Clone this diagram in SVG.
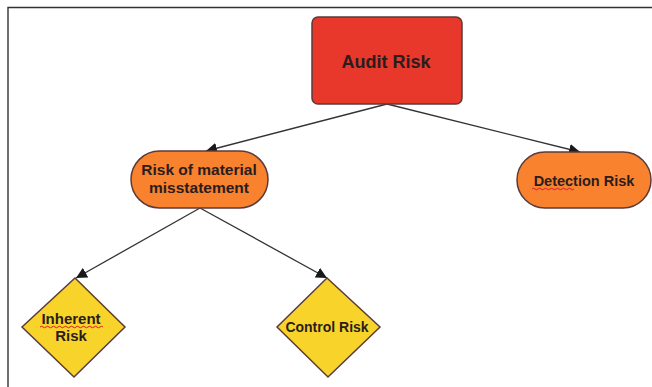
<svg xmlns="http://www.w3.org/2000/svg" width="652" height="387" viewBox="0 0 652 387">
  <defs>
    <marker id="arrow" viewBox="0 0 10 10" refX="10" refY="5" markerWidth="11" markerHeight="11" markerUnits="userSpaceOnUse" orient="auto">
      <path d="M0,0 L10,5 L0,10 z" fill="#1a1a1a"/>
    </marker>
    <style>
      .edge { stroke: #333; stroke-width: 1.3; fill: none; marker-end: url(#arrow); }
      .node { stroke: #5b3b3b; stroke-width: 1.5; }
      .lbl { font-family: "Liberation Sans", Arial, sans-serif; font-weight: bold; fill: #2b1d1d; text-anchor: middle; }
      .squig { stroke: #d42020; stroke-width: 1; fill: none; }
    </style>
  </defs>

  <rect width="652" height="387" fill="#ffffff"/>
  <!-- frame: top and left edges -->
  <path d="M8,387 V7.5 H652" fill="none" stroke="#333" stroke-width="1.4"/>

  <g id="connectors">
    <line class="edge" x1="387" y1="104" x2="206" y2="151"/>
    <line class="edge" x1="387" y1="104" x2="580" y2="152"/>
    <line class="edge" x1="200" y1="208" x2="76" y2="278"/>
    <line class="edge" x1="200" y1="208" x2="327" y2="278"/>
  </g>

  <g id="audit-risk">
    <rect class="node" x="312" y="17" width="150" height="87" rx="6" fill="#e8372b"/>
    <text class="lbl" x="386" y="68" font-size="18">Audit Risk</text>
  </g>

  <g id="risk-material-misstatement">
    <rect class="node" x="131" y="151" width="137" height="57" rx="28.5" fill="#f9822f"/>
    <text class="lbl" x="199" y="175" font-size="15.5">Risk of material</text>
    <text class="lbl" x="199" y="193" font-size="15.5">misstatement</text>
  </g>

  <g id="detection-risk">
    <rect class="node" x="517" y="152" width="134" height="56" rx="28" fill="#f9822f"/>
    <text class="lbl" x="584" y="186" font-size="14.5">Detection Risk</text>
    <path class="squig" d="M532,189 q1.5,-1.5 3,0 t3,0 t3,0 t3,0 t3,0 t3,0 t3,0 t3,0 t3,0 t3,0 t3,0 t3,0 t3,0 t3,0"/>
  </g>

  <g id="inherent-risk">
    <polygon class="node" points="75,278 125,327 74,377 22,327" fill="#f8d42a"/>
    <text class="lbl" x="71" y="324" font-size="15">Inherent</text>
    <text class="lbl" x="71" y="341" font-size="15">Risk</text>
    <path class="squig" d="M40,327 q1.5,-1.5 3,0 t3,0 t3,0 t3,0 t3,0 t3,0 t3,0 t3,0 t3,0 t3,0 t3,0 t3,0 t3,0 t3,0 t3,0 t3,0 t3,0 t3,0 t3,0 t3,0 t3,0"/>
  </g>

  <g id="control-risk">
    <polygon class="node" points="327,278 380,327 328,377 277,327" fill="#f8d42a"/>
    <text class="lbl" x="327" y="332" font-size="14">Control Risk</text>
  </g>
</svg>
